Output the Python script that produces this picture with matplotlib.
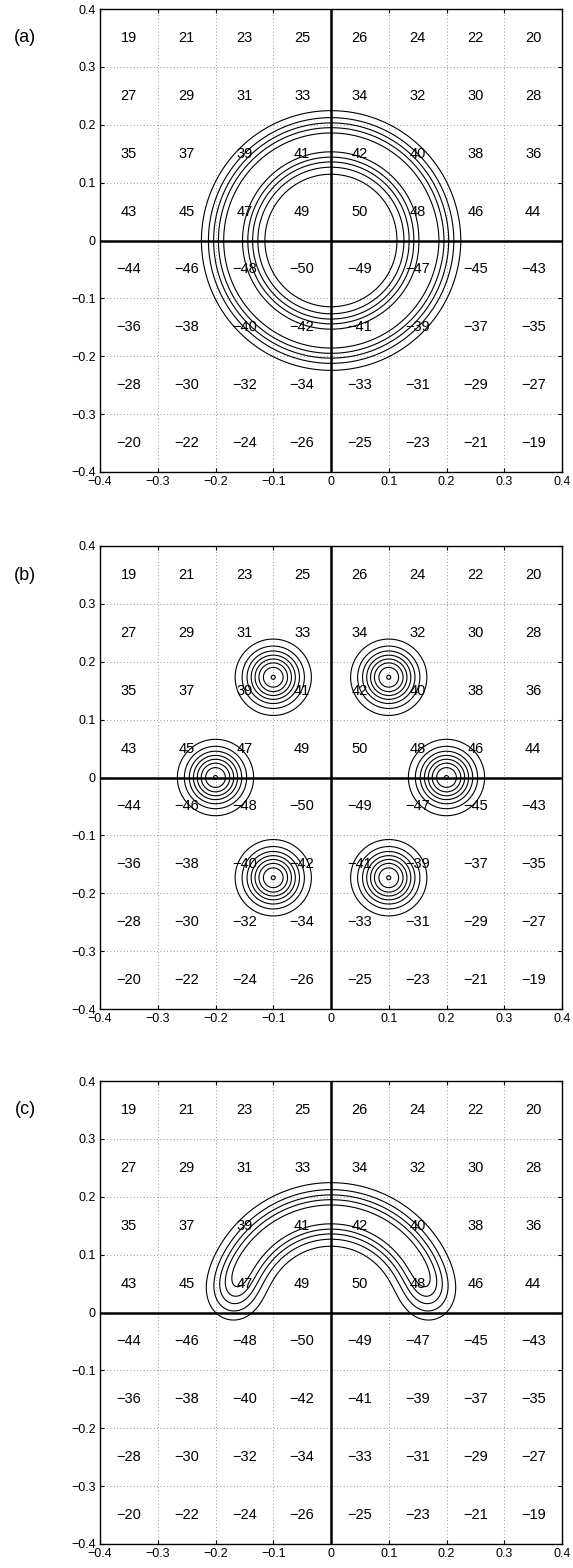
import numpy as np
import matplotlib
matplotlib.use("Agg")
import matplotlib.pyplot as plt

plt.rcParams["font.family"] = ["Liberation Sans", "DejaVu Sans"]

# cell numbers, top row first, left to right
CELL_ROWS = [
    [19, 21, 23, 25, 26, 24, 22, 20],
    [27, 29, 31, 33, 34, 32, 30, 28],
    [35, 37, 39, 41, 42, 40, 38, 36],
    [43, 45, 47, 49, 50, 48, 46, 44],
    [-44, -46, -48, -50, -49, -47, -45, -43],
    [-36, -38, -40, -42, -41, -39, -37, -35],
    [-28, -30, -32, -34, -33, -31, -29, -27],
    [-20, -22, -24, -26, -25, -23, -21, -19],
]
TICKS = [-0.4, -0.3, -0.2, -0.1, 0.0, 0.1, 0.2, 0.3, 0.4]
TICK_LABELS = ["\u22120.4", "\u22120.3", "\u22120.2", "\u22120.1", "0", "0.1", "0.2", "0.3", "0.4"]
PANEL_TAGS = ["(a)", "(b)", "(c)"]

# contour levels shared by all panels
LEVELS = [0.1, 0.2, 0.3, 0.4, 0.5, 0.6, 0.7, 0.8]

# (a) full ring, (c) arc of the same ring
RING_RADIUS = 0.172
RING_WIDTH = 0.029
RING_PEAK = 0.58
ARC_START_DEG = 5.0
ARC_END_DEG = 175.0

# (b) six point sources on a hexagon
SPOT_RADIUS = 0.2
SPOT_ANGLES_DEG = [0, 60, 120, 180, 240, 300]
SPOT_WIDTH = 0.0323
SPOT_PEAK = 0.805


def curve_field(X, Y, t0, t1, n=720):
    """Gaussian line source along a circular arc (angles in degrees)."""
    t = np.radians(np.linspace(t0, t1, n))
    ds = RING_RADIUS * (t[1] - t[0])
    Z = np.zeros_like(X)
    for tt in t:
        cx, cy = RING_RADIUS * np.cos(tt), RING_RADIUS * np.sin(tt)
        Z += np.exp(-((X - cx) ** 2 + (Y - cy) ** 2) / (2 * RING_WIDTH ** 2))
    return RING_PEAK * Z * ds / (np.sqrt(2 * np.pi) * RING_WIDTH)


def spot_field(X, Y):
    Z = np.zeros_like(X)
    for a in np.radians(SPOT_ANGLES_DEG):
        cx, cy = SPOT_RADIUS * np.cos(a), SPOT_RADIUS * np.sin(a)
        Z += SPOT_PEAK * np.exp(-((X - cx) ** 2 + (Y - cy) ** 2) / (2 * SPOT_WIDTH ** 2))
    return Z


def style_axes(ax):
    ax.set_xlim(-0.4, 0.4)
    ax.set_ylim(-0.4, 0.4)
    ax.set_xticks(TICKS)
    ax.set_yticks(TICKS)
    ax.set_xticklabels(TICK_LABELS)
    ax.set_yticklabels(TICK_LABELS)
    ax.tick_params(direction="in", length=3, width=0.8, top=True, right=True,
                   labelsize=9, pad=3, colors="black")
    ax.tick_params(axis="x", pad=3)
    for sp in ax.spines.values():
        sp.set_linewidth(1.0)
    ax.grid(True, color="0.45", linestyle=(0, (1, 3)), linewidth=0.6)
    ax.set_axisbelow(True)
    ax.axhline(0, color="black", linewidth=1.8, zorder=3)
    ax.axvline(0, color="black", linewidth=1.8, zorder=3)

    centers = np.array(TICKS[:-1]) + 0.05
    for i, row in enumerate(CELL_ROWS):
        y = centers[::-1][i]
        for j, val in enumerate(row):
            txt = str(val).replace("-", "\u2212")
            ax.text(centers[j], y, txt, ha="center", va="center", fontsize=10.5, zorder=4)


x = np.linspace(-0.4, 0.4, 481)
X, Y = np.meshgrid(x, x)
fields = [
    curve_field(X, Y, 0.0, 360.0),
    spot_field(X, Y),
    curve_field(X, Y, ARC_START_DEG, ARC_END_DEG),
]

fig = plt.figure(figsize=(5.73, 15.68), dpi=100)
W, H = 573.0, 1568.0
tops = [9, 546, 1081]
for k, top in enumerate(tops):
    ax = fig.add_axes([100 / W, 1 - (top + 463) / H, 462 / W, 463 / H])
    style_axes(ax)
    ax.contour(X, Y, fields[k], levels=LEVELS, colors="black", linewidths=0.8, zorder=5)
    fig.text(25 / W, 1 - (top + 29) / H, PANEL_TAGS[k], ha="center", va="center", fontsize=13)

fig.savefig("out.png", dpi=100)
